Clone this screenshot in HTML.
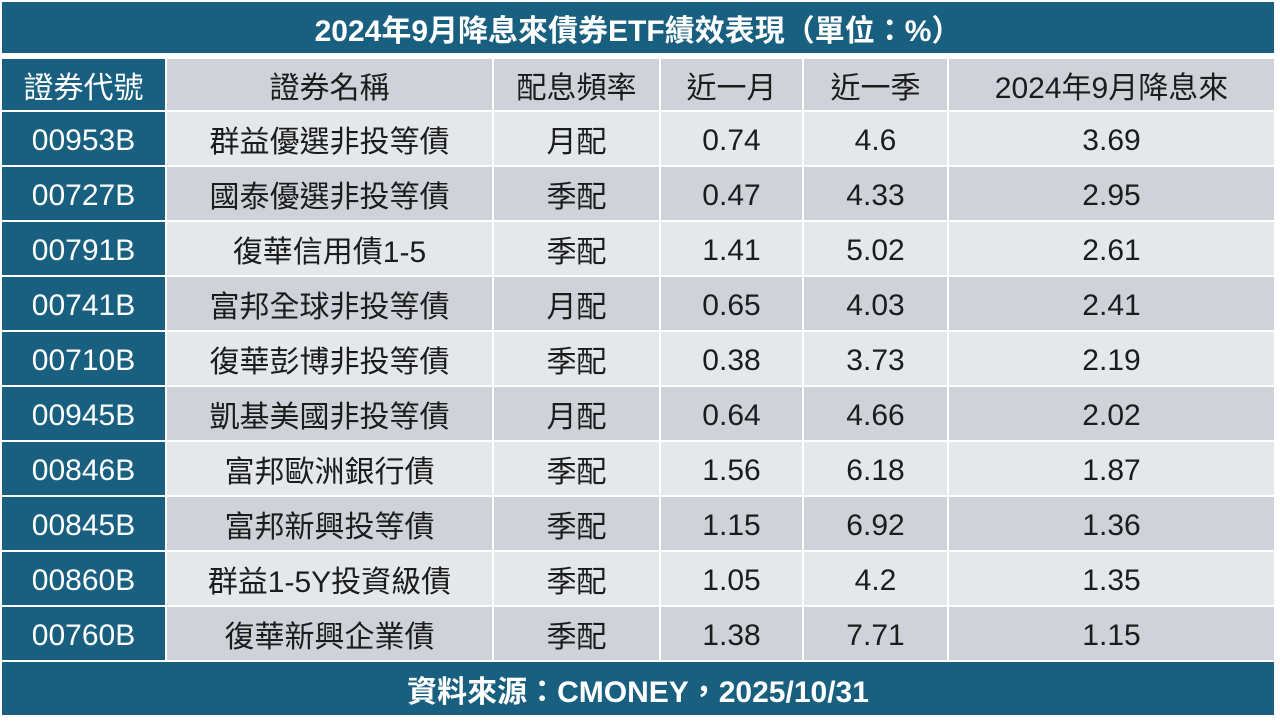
<!DOCTYPE html>
<html><head><meta charset="utf-8">
<style>
html,body{margin:0;padding:0;background:#fff;}
body{width:1280px;height:725px;position:relative;overflow:hidden;font-family:"Liberation Sans","Noto Sans CJK TC",sans-serif;}
.c{position:absolute;display:flex;align-items:center;justify-content:center;font-size:30px;color:#1c1c1c;white-space:nowrap;box-sizing:border-box;}
.n{padding-top:4px;}
.b{background:#185f80;color:#fff;}
.l{background:#e5e8eb;}
.d{background:#cfd3d9;}
.t{font-weight:bold;color:#fff;}
</style></head><body>
<div class="c b t" style="left:2px;top:2px;width:1272px;height:51px;">2024年9月降息來債券ETF績效表現（單位：%）</div>

<div class="c b" style="left:2px;top:59px;width:163px;height:51px;">證券代號</div>
<div class="c d" style="left:167px;top:59px;width:325px;height:51px;">證券名稱</div>
<div class="c d" style="left:494px;top:59px;width:165px;height:51px;">配息頻率</div>
<div class="c d" style="left:661px;top:59px;width:141px;height:51px;">近一月</div>
<div class="c d" style="left:804px;top:59px;width:143px;height:51px;">近一季</div>
<div class="c d" style="left:949px;top:59px;width:325px;height:51px;">2024年9月降息來</div>

<!-- row 1 -->
<div class="c b n" style="left:2px;top:112px;width:163px;height:53px;">00953B</div>
<div class="c l" style="left:167px;top:112px;width:325px;height:53px;">群益優選非投等債</div>
<div class="c l" style="left:494px;top:112px;width:165px;height:53px;">月配</div>
<div class="c l n" style="left:661px;top:112px;width:141px;height:53px;">0.74</div>
<div class="c l n" style="left:804px;top:112px;width:143px;height:53px;">4.6</div>
<div class="c l n" style="left:949px;top:112px;width:325px;height:53px;">3.69</div>
<!-- row 2 -->
<div class="c b n" style="left:2px;top:167px;width:163px;height:53px;">00727B</div>
<div class="c d" style="left:167px;top:167px;width:325px;height:53px;">國泰優選非投等債</div>
<div class="c d" style="left:494px;top:167px;width:165px;height:53px;">季配</div>
<div class="c d n" style="left:661px;top:167px;width:141px;height:53px;">0.47</div>
<div class="c d n" style="left:804px;top:167px;width:143px;height:53px;">4.33</div>
<div class="c d n" style="left:949px;top:167px;width:325px;height:53px;">2.95</div>
<!-- row 3 -->
<div class="c b n" style="left:2px;top:222px;width:163px;height:53px;">00791B</div>
<div class="c l" style="left:167px;top:222px;width:325px;height:53px;">復華信用債1-5</div>
<div class="c l" style="left:494px;top:222px;width:165px;height:53px;">季配</div>
<div class="c l n" style="left:661px;top:222px;width:141px;height:53px;">1.41</div>
<div class="c l n" style="left:804px;top:222px;width:143px;height:53px;">5.02</div>
<div class="c l n" style="left:949px;top:222px;width:325px;height:53px;">2.61</div>
<!-- row 4 -->
<div class="c b n" style="left:2px;top:277px;width:163px;height:53px;">00741B</div>
<div class="c d" style="left:167px;top:277px;width:325px;height:53px;">富邦全球非投等債</div>
<div class="c d" style="left:494px;top:277px;width:165px;height:53px;">月配</div>
<div class="c d n" style="left:661px;top:277px;width:141px;height:53px;">0.65</div>
<div class="c d n" style="left:804px;top:277px;width:143px;height:53px;">4.03</div>
<div class="c d n" style="left:949px;top:277px;width:325px;height:53px;">2.41</div>
<!-- row 5 -->
<div class="c b n" style="left:2px;top:332px;width:163px;height:53px;">00710B</div>
<div class="c l" style="left:167px;top:332px;width:325px;height:53px;">復華彭博非投等債</div>
<div class="c l" style="left:494px;top:332px;width:165px;height:53px;">季配</div>
<div class="c l n" style="left:661px;top:332px;width:141px;height:53px;">0.38</div>
<div class="c l n" style="left:804px;top:332px;width:143px;height:53px;">3.73</div>
<div class="c l n" style="left:949px;top:332px;width:325px;height:53px;">2.19</div>
<!-- row 6 -->
<div class="c b n" style="left:2px;top:387px;width:163px;height:53px;">00945B</div>
<div class="c d" style="left:167px;top:387px;width:325px;height:53px;">凱基美國非投等債</div>
<div class="c d" style="left:494px;top:387px;width:165px;height:53px;">月配</div>
<div class="c d n" style="left:661px;top:387px;width:141px;height:53px;">0.64</div>
<div class="c d n" style="left:804px;top:387px;width:143px;height:53px;">4.66</div>
<div class="c d n" style="left:949px;top:387px;width:325px;height:53px;">2.02</div>
<!-- row 7 -->
<div class="c b n" style="left:2px;top:442px;width:163px;height:53px;">00846B</div>
<div class="c l" style="left:167px;top:442px;width:325px;height:53px;">富邦歐洲銀行債</div>
<div class="c l" style="left:494px;top:442px;width:165px;height:53px;">季配</div>
<div class="c l n" style="left:661px;top:442px;width:141px;height:53px;">1.56</div>
<div class="c l n" style="left:804px;top:442px;width:143px;height:53px;">6.18</div>
<div class="c l n" style="left:949px;top:442px;width:325px;height:53px;">1.87</div>
<!-- row 8 -->
<div class="c b n" style="left:2px;top:497px;width:163px;height:53px;">00845B</div>
<div class="c d" style="left:167px;top:497px;width:325px;height:53px;">富邦新興投等債</div>
<div class="c d" style="left:494px;top:497px;width:165px;height:53px;">季配</div>
<div class="c d n" style="left:661px;top:497px;width:141px;height:53px;">1.15</div>
<div class="c d n" style="left:804px;top:497px;width:143px;height:53px;">6.92</div>
<div class="c d n" style="left:949px;top:497px;width:325px;height:53px;">1.36</div>
<!-- row 9 -->
<div class="c b n" style="left:2px;top:552px;width:163px;height:53px;">00860B</div>
<div class="c l" style="left:167px;top:552px;width:325px;height:53px;">群益1-5Y投資級債</div>
<div class="c l" style="left:494px;top:552px;width:165px;height:53px;">季配</div>
<div class="c l n" style="left:661px;top:552px;width:141px;height:53px;">1.05</div>
<div class="c l n" style="left:804px;top:552px;width:143px;height:53px;">4.2</div>
<div class="c l n" style="left:949px;top:552px;width:325px;height:53px;">1.35</div>
<!-- row 10 -->
<div class="c b n" style="left:2px;top:607px;width:163px;height:53px;">00760B</div>
<div class="c d" style="left:167px;top:607px;width:325px;height:53px;">復華新興企業債</div>
<div class="c d" style="left:494px;top:607px;width:165px;height:53px;">季配</div>
<div class="c d n" style="left:661px;top:607px;width:141px;height:53px;">1.38</div>
<div class="c d n" style="left:804px;top:607px;width:143px;height:53px;">7.71</div>
<div class="c d n" style="left:949px;top:607px;width:325px;height:53px;">1.15</div>

<div class="c b t" style="left:2px;top:662px;width:1272px;height:53px;">資料來源：CMONEY，2025/10/31</div>
</body></html>
